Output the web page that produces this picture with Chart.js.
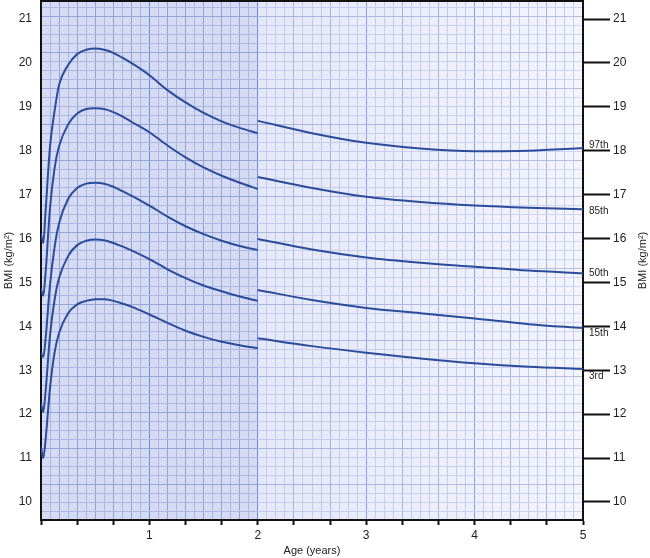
<!DOCTYPE html>
<html>
<head>
<meta charset="utf-8">
<script src="https://cdn.jsdelivr.net/npm/chart.js@4.4.1/dist/chart.umd.min.js"></script>
<style>
  html, body { margin: 0; padding: 0; background: #fff; }
</style>
</head>
<body>
<canvas id="bmi" width="650" height="558"></canvas>
<script>
// ages in months: birth to 2 years (length) and 2 to 5 years (height)
const monthsInfant = [0, 0.25, 0.5, 1, 1.5, 2, 3, 4, 5, 6, 7, 8, 9, 10, 12, 14, 16, 18, 20, 22, 24];
const monthsChild = [24, 30, 36, 42, 48, 54, 60];

const p97Infant = [16.1, 15.9, 16.6, 18.1, 18.9, 19.5, 19.95, 20.2, 20.3, 20.33, 20.3, 20.23, 20.12, 20.0, 19.72, 19.38, 19.1, 18.86, 18.67, 18.52, 18.4];
const p85Infant = [14.85, 14.7, 15.2, 16.7, 17.6, 18.1, 18.6, 18.85, 18.95, 18.97, 18.95, 18.88, 18.78, 18.66, 18.42, 18.12, 17.85, 17.62, 17.43, 17.27, 17.13];
const p50Infant = [13.4, 13.3, 13.7, 14.95, 15.8, 16.35, 16.9, 17.15, 17.25, 17.27, 17.25, 17.18, 17.08, 16.98, 16.75, 16.5, 16.28, 16.1, 15.95, 15.83, 15.74];
const p15Infant = [12.25, 12.05, 12.5, 13.8, 14.6, 15.1, 15.6, 15.85, 15.95, 15.98, 15.96, 15.9, 15.82, 15.73, 15.53, 15.3, 15.1, 14.93, 14.8, 14.68, 14.58];
const p3Infant = [11.25, 11.0, 11.4, 12.6, 13.4, 13.85, 14.3, 14.5, 14.58, 14.62, 14.62, 14.58, 14.52, 14.45, 14.27, 14.08, 13.9, 13.76, 13.65, 13.57, 13.5];

const p97Child = [18.68, 18.4, 18.18, 18.05, 17.99, 18.0, 18.06];
const p85Child = [17.4, 17.15, 16.95, 16.83, 16.75, 16.7, 16.67];
const p50Child = [15.99, 15.75, 15.57, 15.45, 15.36, 15.27, 15.21];
const p15Child = [14.83, 14.6, 14.42, 14.3, 14.18, 14.05, 13.96];
const p3Child = [13.73, 13.55, 13.4, 13.27, 13.16, 13.08, 13.03];

const percentileNames = ['97th', '85th', '50th', '15th', '3rd'];
const bmiTicks = [10, 11, 12, 13, 14, 15, 16, 17, 18, 19, 20, 21];
const yearLabels = ['1', '2', '3', '4', '5'];

// label nudges so the percentile names clear the right-hand tick marks
const labelNudge = [-3, 2, 0, 5, 7];

const infantSeries = [p97Infant, p85Infant, p50Infant, p15Infant, p3Infant];
const childSeries = [p97Child, p85Child, p50Child, p15Child, p3Child];

const LINE = '#2c4b9b';
const FONT = "'Liberation Sans', Arial, sans-serif";

Chart.defaults.font.family = FONT;
Chart.defaults.color = '#222';

function toPoints (xs, ys) {
  return xs.map((x, i) => ({ x: x, y: ys[i] }));
}

const datasets = [];
percentileNames.forEach((name, i) => {
  [toPoints(monthsInfant, infantSeries[i]), toPoints(monthsChild, childSeries[i])].forEach(pts => {
    datasets.push({
      label: name,
      data: pts,
      xAxisID: 'x',
      yAxisID: 'y',
      borderColor: LINE,
      borderWidth: 2,
      pointRadius: 0,
      fill: false,
      cubicInterpolationMode: 'monotone'
    });
  });
});

function splitGradient (chart, c1, c2, c3) {
  const a = chart.chartArea;
  if (!a || !chart.scales.x) return c1;
  const split = chart.scales.x.getPixelForValue(24);
  const s = (split - a.left) / (a.right - a.left);
  const g = chart.ctx.createLinearGradient(a.left, 0, a.right, 0);
  g.addColorStop(0, c1);
  g.addColorStop(s, c1);
  g.addColorStop(Math.min(1, s + 0.001), c2);
  g.addColorStop(1, c3);
  return g;
}

const paper = {
  id: 'paper',
  beforeDraw (chart) {
    const { ctx, chartArea: a } = chart;
    const split = chart.scales.x.getPixelForValue(24);
    ctx.save();
    ctx.fillStyle = '#d5dbf3';
    ctx.fillRect(a.left, a.top, split - a.left, a.bottom - a.top);
    const g = ctx.createLinearGradient(split, 0, a.right, 0);
    g.addColorStop(0, '#e4e8f8');
    g.addColorStop(1, '#f3f4fc');
    ctx.fillStyle = g;
    ctx.fillRect(split, a.top, a.right - split, a.bottom - a.top);
    ctx.restore();
  }
};

const annotations = {
  id: 'annotations',
  afterDraw (chart) {
    const { ctx, chartArea: a } = chart;
    const x = chart.scales.x;
    const y = chart.scales.y;
    ctx.save();
    ctx.fillStyle = '#222';
    ctx.font = '10px ' + FONT;
    ctx.textAlign = 'left';
    ctx.textBaseline = 'middle';
    percentileNames.forEach((name, i) => {
      const last = childSeries[i][childSeries[i].length - 1];
      ctx.fillText(name, x.getPixelForValue(60) + 6, y.getPixelForValue(last) + labelNudge[i]);
    });
    // right-hand axis title, reading bottom to top like the left one
    ctx.font = '11px ' + FONT;
    ctx.textAlign = 'center';
    ctx.translate(643, (a.top + a.bottom) / 2);
    ctx.rotate(-Math.PI / 2);
    ctx.fillText('BMI (kg/m²)', 0, 0);
    ctx.restore();
  }
};

// keep tick label overhang from pushing the plot area in
function noOverhang (s) {
  s.paddingTop = 0;
  s.paddingBottom = 0;
}

const bmiAxis = (position, extra) => Object.assign({
  type: 'linear',
  position: position,
  min: 9.59,
  max: 21.41,
  afterBuildTicks: s => { s.ticks = bmiTicks.map(v => ({ value: v })); },
  ticks: { font: { size: 12 }, color: '#222' },
  border: { display: true, color: '#111', width: 2 }
}, extra);

new Chart(document.getElementById('bmi'), {
  type: 'line',
  data: { datasets: datasets },
  plugins: [paper, annotations],
  options: {
    responsive: false,
    animation: false,
    devicePixelRatio: 1,
    layout: { padding: { top: 1, left: 0, right: 0, bottom: 0 } },
    plugins: { legend: { display: false }, tooltip: { enabled: false } },
    scales: {
      x: {
        type: 'linear',
        position: 'bottom',
        min: 0,
        max: 60,
        afterFit: s => { s.height = 38; s.paddingLeft = 0; s.paddingRight = 0; },
        ticks: {
          stepSize: 1,
          autoSkip: false,
          maxRotation: 0,
          padding: 3,
          font: { size: 12 },
          color: '#222',
          callback: v => (v > 0 && v % 12 === 0 ? yearLabels[v / 12 - 1] : '')
        },
        grid: {
          color: c => {
            const m = c.tick.value;
            if (m === 0 || m === 60) return 'rgba(0,0,0,0)';
            if (m % 12 === 0) return m <= 24 ? '#6c8be2' : '#8aa0e6';
            if (m < 24) return m % 2 === 0 ? '#96a1d5' : '#adb6e2';
            return m % 4 === 0 ? '#a9b1de' : '#c4caee';
          },
          lineWidth: 1,
          tickLength: 5,
          tickWidth: 2,
          tickColor: c => (c.tick.value % 4 === 0 ? '#111' : 'rgba(0,0,0,0)')
        },
        border: { display: true, color: '#111', width: 2 },
        title: {
          display: true,
          text: 'Age (years)',
          font: { size: 11 },
          color: '#222',
          padding: { top: 0, bottom: 0 }
        }
      },
      xt: {
        type: 'linear',
        position: 'top',
        min: 0,
        max: 60,
        afterFit: s => { s.height = 0; s.paddingLeft = 0; s.paddingRight = 0; },
        ticks: { display: false },
        grid: { drawOnChartArea: false, drawTicks: false },
        border: { display: true, color: '#111', width: 2 }
      },
      yg: {
        type: 'linear',
        position: 'left',
        min: 0,
        max: 57.7,
        afterFit: s => { s.width = 0; noOverhang(s); },
        ticks: { display: false, stepSize: 1, includeBounds: false },
        grid: {
          drawTicks: false,
          lineWidth: 1,
          color: c => (c.tick.value % 4 === 0
            ? splitGradient(c.chart, '#97a2d5', '#aab2df', '#b8bfe6')
            : splitGradient(c.chart, '#aeb7e2', '#c4cbee', '#d0d5f3'))
        },
        border: { display: false }
      },
      y: bmiAxis('left', {
        afterFit: s => { s.width = 41; noOverhang(s); },
        ticks: { font: { size: 12 }, color: '#222', padding: 9 },
        grid: { drawOnChartArea: false, drawTicks: false },
        title: {
          display: true,
          text: 'BMI (kg/m²)',
          font: { size: 11 },
          color: '#222',
          padding: { top: 2, bottom: 0 }
        }
      }),
      yr: bmiAxis('right', {
        afterFit: s => { s.width = 67; noOverhang(s); },
        ticks: { font: { size: 12 }, color: '#222', padding: 3 },
        grid: { drawOnChartArea: false, drawTicks: true, tickLength: 27, tickWidth: 2, tickColor: '#111' }
      })
    }
  }
});
</script>
</body>
</html>
